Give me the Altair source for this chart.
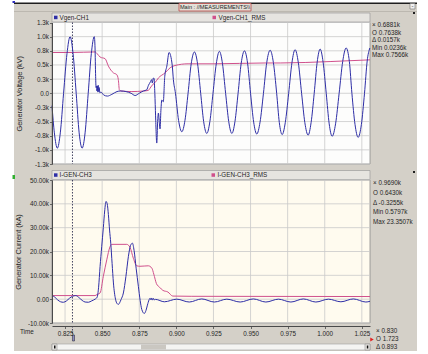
import altair as alt
import pandas as pd

# ---------------- data ----------------
VGEN_T = [0.8162, 0.8178, 0.8198, 0.8218, 0.8240, 0.8263, 0.8284, 0.8304, 0.8325, 0.8345,
          0.8365, 0.8385, 0.8406, 0.8427, 0.8447, 0.8452, 0.8456, 0.8459, 0.8462, 0.8465,
          0.8468, 0.8471, 0.8474, 0.8477, 0.8480, 0.8484, 0.8492, 0.8510, 0.8535, 0.8565,
          0.8600, 0.8625, 0.8660, 0.8695, 0.8722, 0.8750, 0.8778, 0.8800, 0.8812, 0.8825,
          0.8833, 0.8838, 0.8845, 0.8850, 0.8855, 0.8860, 0.8868, 0.8874, 0.8879, 0.8885,
          0.8890, 0.8896, 0.8902, 0.8912, 0.8922, 0.8936, 0.8951,
          0.8972, 0.8980, 0.8994, 0.9015, 0.9037, 0.9058, 0.9079, 0.9100, 0.9122, 0.9143,
          0.9164, 0.9184, 0.9205, 0.9226, 0.9247, 0.9269, 0.9290, 0.9311, 0.9332, 0.9353,
          0.9374, 0.9395, 0.9416, 0.9437, 0.9459, 0.9480, 0.9500, 0.9521, 0.9542, 0.9564,
          0.9587, 0.9609, 0.9632, 0.9654, 0.9676, 0.9694, 0.9713, 0.9734, 0.9757, 0.9779,
          0.9800, 0.9822, 0.9844, 0.9866, 0.9888, 0.9908, 0.9929, 0.9949, 0.9969, 0.9989,
          1.0010, 1.0030, 1.0050, 1.0073, 1.0097, 1.0121, 1.0144, 1.0166, 1.0183, 1.0204,
          1.0225, 1.0247, 1.0268, 1.0286, 1.0304]
VGEN_KV = [-0.22, -0.70, -0.97, -0.70, 0.00, 0.70, 1.00, 0.70, 0.00, -0.70,
           -0.97, -0.70, 0.00, 0.70, 1.00, 0.80, 0.30, 0.10, 0.13, 0.04,
           0.13, 0.02, 0.14, 0.03, 0.10, 0.01, 0.02, -0.03, -0.05, -0.02,
           0.03, 0.04, 0.03, 0.00, -0.04, 0.00, 0.04, 0.06, 0.14, 0.20,
           0.24, 0.18, 0.27, 0.26, 0.00, -0.40, -0.88, -0.50, -0.35, -0.50,
           -0.63, -0.30, -0.12, -0.15, 0.30, 0.48, 0.72,
           0.50, 0.24, 0.00, -0.48, -0.68, -0.48, 0.00, 0.52, 0.73, 0.52,
           0.00, -0.50, -0.71, -0.50, 0.00, 0.52, 0.74, 0.52, 0.00, -0.50,
           -0.71, -0.50, 0.00, 0.53, 0.75, 0.53, 0.00, -0.51, -0.72, -0.51,
           0.00, 0.54, 0.76, 0.54, 0.00, -0.52, -0.73, -0.52, 0.00, 0.54,
           0.77, 0.54, 0.00, -0.52, -0.74, -0.52, 0.00, 0.55, 0.78, 0.55,
           0.00, -0.54, -0.76, -0.54, 0.00, 0.56, 0.80, 0.56, 0.00, -0.55,
           -0.78, -0.55, 0.00, 0.57, 0.80]

VRMS_T = [0.8162, 0.8300, 0.8452, 0.8466, 0.8486, 0.8520, 0.8542, 0.8576, 0.8598, 0.8609,
          0.8616, 0.8627, 0.8700, 0.8780, 0.8811, 0.8823, 0.8843, 0.8857, 0.8879, 0.8924,
          0.8958, 0.8991, 0.9079, 0.9254, 0.9598, 0.9700, 1.0036, 1.0305]
VRMS_KV = [0.72, 0.72, 0.73, 0.70, 0.64, 0.61, 0.48, 0.36, 0.33, 0.24,
           0.06, 0.04, 0.03, 0.04, 0.05, 0.09, 0.16, 0.19, 0.27, 0.36,
           0.45, 0.49, 0.52, 0.52, 0.535, 0.535, 0.56, 0.59]

IGEN_T = [0.8162, 0.8180, 0.8200, 0.8220, 0.8239, 0.8260, 0.8280, 0.8300, 0.8322, 0.8345,
          0.8365, 0.8385, 0.8407, 0.8430, 0.8452, 0.8466, 0.8476, 0.8486, 0.8497, 0.8508,
          0.8517, 0.8526, 0.8534, 0.8542, 0.8550, 0.8558, 0.8567, 0.8576, 0.8590, 0.8600,
          0.8609, 0.8618, 0.8627, 0.8643, 0.8660, 0.8677, 0.8691, 0.8704, 0.8715, 0.8729,
          0.8744, 0.8756, 0.8767, 0.8784, 0.8795, 0.8805, 0.8816, 0.8823, 0.8829, 0.8834,
          0.8840, 0.8846, 0.8852, 0.8860, 0.8919, 0.9003, 0.9087, 0.9171, 0.9256, 0.9340,
          0.9430, 0.9519, 0.9603, 0.9688, 0.9772, 0.9856, 0.9940, 1.0025, 1.0109, 1.0193,
          1.0277, 1.0305]
IGEN_KA = [1.5, 0.9, -0.3, -1.1, -1.3, -0.7, 0.4, 1.2, 1.5, 0.6,
           -0.5, -1.2, -1.3, -0.7, 0.0, 0.8, 5.0, 13.7, 22.0, 30.0,
           37.0, 41.0, 40.0, 35.5, 29.0, 23.5, 15.0, 6.8, 0.0, -1.8,
           -2.2, -1.5, -0.2, 2.6, 9.5, 18.0, 22.5, 23.5, 20.5, 13.0,
           5.4, -0.5, -4.3, -6.0, -4.8, -2.5, -0.3, 0.4, -0.3, 0.5,
           -0.4, 0.3, -0.3, -0.1, -1.1, 0.0, -1.2, 0.1, -1.2, 0.0,
           -1.2, 0.1, -1.2, 0.0, -1.2, 0.1, -1.2, 0.0, -1.1, 0.1,
           -1.2, -0.9]

IRMS_T = [0.8162, 0.8452, 0.8466, 0.8486, 0.8508, 0.8531, 0.8553, 0.8565, 0.8666, 0.8688,
          0.8710, 0.8733, 0.8755, 0.8811, 0.8835, 0.8848, 0.8866, 0.8887, 0.8909, 0.8943,
          0.8976, 0.9100, 1.0305]
IRMS_KA = [1.5, 1.5, 2.0, 2.6, 9.6, 16.5, 22.0, 23.0, 23.0, 21.7,
           17.2, 14.0, 13.8, 14.0, 13.0, 10.5, 6.5, 5.0, 3.7, 3.0,
           1.3, 1.2, 1.1]

TIME_TICKS = [0.825, 0.85, 0.875, 0.9, 0.925, 0.95, 0.975, 1.0, 1.025]
TIME_LABELS = ["0.825", "0.850", "0.875", "0.900", "0.925", "0.950", "0.975", "1.000", "1.025"]
V_TICKS = [1.25, 1.0, 0.75, 0.5, 0.25, 0.0, -0.25, -0.5, -0.75, -1.0, -1.25]
V_LABELS = ["1.3k", "1.0k", "0.8k", "0.5k", "0.3k", "0.0", "-0.3k", "-0.5k", "-0.8k", "-1.0k", "-1.3k"]
I_TICKS = [50, 40, 30, 20, 10, 0, -10]
I_LABELS = ["50.00k", "40.00k", "30.00k", "20.00k", "10.00k", "0.00", "-10.00k"]
CURSOR_T = [0.830]
TIME_DOMAIN = [0.8162, 1.0305]
V_DOMAIN = [-1.25, 1.25]
I_DOMAIN = [-10, 50]

TITLE = "Main : //MEASUREMENTS\\\\"
TOP_SERIES = ["Vgen-CH1", "Vgen-CH1_RMS"]
BOT_SERIES = ["I-GEN-CH3", "I-GEN-CH3_RMS"]
TOP_INFO = ["\u00d7 0.6881k", "O 0.7638k", "\u0394 0.0157k", "Min 0.0236k", "Max 0.7566k"]
BOT_INFO = ["\u00d7 0.9690k", "O 0.6430k", "\u0394 -0.3255k", "Min 0.5797k", "Max 23.3507k"]
TIME_INFO = ["\u00d7 0.830", "O 1.723", "\u0394 0.893"]
Y_TITLES = ["Generator Voltage (kV)", "Generator Current (kA)"]

# ---------------- layout / style ----------------
W, H = 428, 354
PX0, PX1 = 52, 370
TOP_Y0, TOP_Y1 = 22.5, 164
BOT_Y0, BOT_Y1 = 180, 323
BLUE = "#2e2ea6"
PINK = "#d0508c"
GRID = "#c9c9c9"
PANEL = "#d4d0c8"
FONT = "Liberation Sans"
FS = 6.3
TXT = "#262626"
ONE = alt.Data(values=[{"a": 1}])


def label_expr(vals, labels):
    return ("[" + ",".join("'%s'" % l for l in labels) + "][indexof(["
            + ",".join(repr(v) for v in vals) + "], datum.value)]")


xs = alt.Scale(domain=TIME_DOMAIN, range=[PX0, PX1], nice=False, zero=False)
vs = alt.Scale(domain=V_DOMAIN, range=[TOP_Y1, TOP_Y0], nice=False, zero=False)
iscale = alt.Scale(domain=I_DOMAIN, range=[BOT_Y1, BOT_Y0], nice=False, zero=False)


def box(x1, x2, y1, y2, fill, stroke=None, sw=0.8):
    kw = dict(fill=fill)
    if stroke:
        kw.update(stroke=stroke, strokeWidth=sw)
    return alt.Chart(ONE).mark_rect(**kw).encode(
        x=alt.value(x1), x2=alt.value(x2), y=alt.value(y1), y2=alt.value(y2))


def txt(s, x, y, size=FS, align="left", color=TXT):
    return alt.Chart(ONE).mark_text(align=align, baseline="middle", fontSize=size,
                                    font=FONT, color=color).encode(
        x=alt.value(x), y=alt.value(y), text=alt.value(s))


layers = []
# window chrome
layers.append(box(14, 417, 3, 351, PANEL))
layers.append(box(14, 417, 2.5, 4, "#1e1e1e"))
layers.append(box(12.5, 15, 1, 3, "#3030c0"))
layers.append(box(14, 417, 11, 11.8, "#b4b0a8"))
layers.append(box(179, 251, 3.5, 11, "#e4e0d8", "#c05858", 0.9))
layers.append(txt(TITLE, 215, 7.4, 5.6, "center"))
layers.append(box(410, 415, 3.5, 9, "#f2f2f2", "#707070", 0.6))
layers.append(txt("-", 412.5, 6, 6, "center"))
layers.append(box(413, 415, 12, 14, "#202020"))
layers.append(box(413, 415, 171, 173, "#202020"))
layers.append(box(12.5, 15, 175, 179, "#30b030"))

# plot backgrounds
layers.append(box(PX0, PX1, TOP_Y0, TOP_Y1, "#fdfdfc", "#8a8a8a", 0.8))
layers.append(box(PX0, PX1, BOT_Y0, BOT_Y1, "#fffbef", "#8a8a8a", 0.8))

# legend bars
layers.append(box(PX0, PX1, 13, 22, "#e6e4e0", "#9c9c9c", 0.7))
layers.append(box(54, 57.5, 15.7, 19.2, BLUE))
layers.append(txt(TOP_SERIES[0], 59.5, 17.6))
layers.append(box(212.5, 216, 15.7, 19.2, PINK))
layers.append(txt(TOP_SERIES[1], 218.5, 17.6))
layers.append(box(PX0, PX1, 170.5, 179.5, "#e6e4e0", "#9c9c9c", 0.7))
layers.append(box(54, 57.5, 173.3, 176.8, BLUE))
layers.append(txt(BOT_SERIES[0], 59.5, 175.2))
layers.append(box(211.5, 215, 173.3, 176.8, PINK))
layers.append(txt(BOT_SERIES[1], 217.5, 175.2))

ticks_df = pd.DataFrame({"t": TIME_TICKS})
vt_df = pd.DataFrame({"v": V_TICKS})
it_df = pd.DataFrame({"v": I_TICKS})

axis_common = dict(zindex=2, grid=False, labelFont=FONT, labelFontSize=FS, labelColor=TXT,
                   domainColor="#4a4a4a", tickColor="#4a4a4a", tickSize=2.5,
                   domainWidth=1, tickWidth=0.8)

x_axis = alt.Axis(orient="bottom", offset=-(H - 326), values=TIME_TICKS,
                  labelExpr=label_expr(TIME_TICKS, TIME_LABELS), labelPadding=1.5,
                  labelBaseline="top", title=None, **axis_common)
v_axis = alt.Axis(orient="left", offset=-PX0, values=V_TICKS,
                  labelExpr=label_expr(V_TICKS, V_LABELS), labelPadding=1,
                  title=Y_TITLES[0], titleX=19 - PX0, titleY=(TOP_Y0 + TOP_Y1) / 2,
                  titleAngle=270, titleAlign="center", titleBaseline="middle",
                  titleFont=FONT, titleFontSize=7.4, titleFontWeight="normal",
                  titleColor=TXT, **axis_common)
i_axis = alt.Axis(orient="left", offset=-PX0, values=I_TICKS,
                  labelExpr=label_expr(I_TICKS, I_LABELS), labelPadding=1,
                  title=Y_TITLES[1], titleX=18.5 - PX0, titleY=(BOT_Y0 + BOT_Y1) / 2,
                  titleAngle=270, titleAlign="center", titleBaseline="middle",
                  titleFont=FONT, titleFontSize=7.4, titleFontWeight="normal",
                  titleColor=TXT, **axis_common)

# grid lines
layers.append(alt.Chart(ticks_df).mark_rule(color=GRID, strokeWidth=0.8).encode(
    x=alt.X("t:Q", scale=xs, axis=None), y=alt.value(TOP_Y0), y2=alt.value(TOP_Y1)))
layers.append(alt.Chart(ticks_df).mark_rule(color=GRID, strokeWidth=0.8).encode(
    x=alt.X("t:Q", scale=xs, axis=x_axis), y=alt.value(BOT_Y0), y2=alt.value(BOT_Y1)))
layers.append(alt.Chart(vt_df).mark_rule(color=GRID, strokeWidth=0.8).encode(
    y=alt.Y("v:Q", scale=vs, axis=v_axis), x=alt.value(PX0), x2=alt.value(PX1)))
layers.append(alt.Chart(it_df).mark_rule(color=GRID, strokeWidth=0.8).encode(
    y=alt.Y("v:Q", scale=iscale, axis=i_axis), x=alt.value(PX0), x2=alt.value(PX1)))

# cursor
cur_df = pd.DataFrame({"t": CURSOR_T})
for y1, y2 in [(TOP_Y0, TOP_Y1), (BOT_Y0, BOT_Y1), (326, 335)]:
    layers.append(alt.Chart(cur_df).mark_rule(color="#303050", strokeWidth=0.9,
                                              strokeDash=[1.5, 1.5]).encode(
        x=alt.X("t:Q", scale=xs, axis=None), y=alt.value(y1), y2=alt.value(y2)))
layers.append(alt.Chart(cur_df).mark_rect(fill="#8c8cc0", stroke="#303040", strokeWidth=0.6).encode(
    x=alt.X("t:Q", scale=xs, axis=None), x2=alt.value(74.5), y=alt.value(335), y2=alt.value(341)))

# series
def series(t, v, scale, color):
    df = pd.DataFrame({"t": t, "v": v})
    return alt.Chart(df).mark_line(color=color, strokeWidth=1, interpolate="monotone").encode(
        x=alt.X("t:Q", scale=xs, axis=None), y=alt.Y("v:Q", scale=scale, axis=None))

layers.append(series(VRMS_T, VRMS_KV, vs, PINK))
layers.append(series(VGEN_T, VGEN_KV, vs, BLUE))
layers.append(series(IRMS_T, IRMS_KA, iscale, PINK))
layers.append(series(IGEN_T, IGEN_KA, iscale, BLUE))

# info panels
for k, s in enumerate(TOP_INFO):
    layers.append(txt(s, 372, 25 + 7.6 * k))
for k, s in enumerate(BOT_INFO):
    layers.append(txt(s, 373, 183 + 9.8 * k))
for k, s in enumerate(TIME_INFO):
    layers.append(txt(s, 376, 331 + 8 * k))
layers.append(txt("Time", 20, 332))

# scroll bar and marker
layers.append(box(PX0, PX1, 344, 350, "#f4f4f2", "#a0a0a0", 0.6))
layers.append(box(141, 166, 344.5, 349.5, "#cac7c1"))
layers.append(box(PX0, 57, 344, 350, "#e8e6e2", "#909090", 0.6))
layers.append(box(365, PX1, 344, 350, "#e8e6e2", "#909090", 0.6))
layers.append(box(54, 55.5, 345.5, 348.5, "#111111"))
layers.append(box(366.8, 368.3, 345.5, 348.5, "#111111"))
layers.append(alt.Chart(ONE).mark_point(shape="triangle-right", filled=True, color="#e02020",
                                        size=16, opacity=1).encode(
    x=alt.value(372), y=alt.value(339.5)))

chart = alt.layer(*layers).resolve_scale(x="independent", y="independent").properties(
    width=W, height=H, padding=0, background="white",
    autosize=alt.AutoSizeParams(type="none"),
).configure_view(stroke=None)

chart.save("out.html", embed_options={"renderer": "svg", "actions": False})
